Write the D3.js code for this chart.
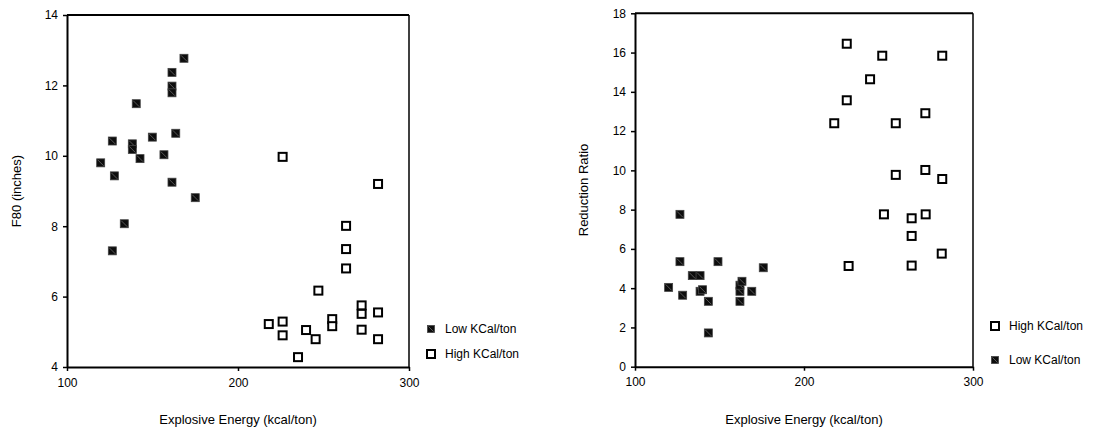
<!DOCTYPE html>
<html>
<head>
<meta charset="utf-8">
<script src="https://cdn.jsdelivr.net/npm/d3@7"></script>
<style>
  html, body { margin: 0; padding: 0; background: #fff; }
  svg { display: block; font-family: "Liberation Sans", Arial, sans-serif; }
</style>
</head>
<body>
<svg id="chart" width="1098" height="436"></svg>
<script>
// Explosive energy (kcal/ton) shared by both panels
const energyTicks = [100, 200, 300];

// Left panel: F80 (inches) vs explosive energy
const f80Ticks = [4, 6, 8, 10, 12, 14];
const f80LowEnergy = [168.4, 161.4, 161.4, 161.4, 140.5, 126.5, 138.2, 138.2, 149.9, 163.6, 156.7, 142.7, 119.7, 127.7, 161.4, 175.0, 133.5, 126.5];
const f80LowValues = [12.77, 12.37, 11.98, 11.79, 11.48, 10.42, 10.34, 10.18, 10.53, 10.64, 10.03, 9.92, 9.80, 9.43, 9.25, 8.81, 8.07, 7.30];
const f80HighEnergy = [226.1, 218.0, 226.1, 226.1, 235.1, 239.8, 245.4, 247.0, 255.1, 255.1, 263.2, 263.2, 263.2, 272.3, 272.3, 272.3, 281.9, 281.9, 281.9];
const f80HighValues = [9.97, 5.22, 5.29, 4.90, 4.28, 5.05, 4.79, 6.17, 5.36, 5.16, 8.01, 7.35, 6.80, 5.75, 5.51, 5.06, 9.20, 5.55, 4.79];

// Right panel: reduction ratio vs explosive energy
const ratioTicks = [0, 2, 4, 6, 8, 10, 12, 14, 16, 18];
const ratioHighEnergy = [225.3, 246.3, 281.8, 239.1, 225.3, 217.9, 254.3, 271.8, 254.3, 271.8, 281.8, 247.3, 263.7, 272.0, 263.7, 281.5, 263.7, 226.4];
const ratioHighValues = [16.45, 15.84, 15.84, 14.64, 13.57, 12.40, 12.40, 12.91, 9.77, 10.02, 9.56, 7.76, 7.56, 7.76, 6.66, 5.76, 5.15, 5.13];
const ratioLowEnergy = [126.6, 126.6, 119.9, 128.2, 133.9, 138.5, 138.5, 140.0, 143.4, 143.4, 149.1, 162.1, 162.1, 162.1, 163.3, 169.1, 175.9];
const ratioLowValues = [7.76, 5.35, 4.04, 3.64, 4.64, 4.64, 3.84, 3.92, 3.33, 1.72, 5.35, 3.84, 3.33, 4.15, 4.35, 3.84, 5.04];

const seriesLow = "Low KCal/ton";
const seriesHigh = "High KCal/ton";

const svg = d3.select("#chart");

// marker painters
function drawOpen(g, cx, cy, size) {
  g.append("rect")
    .attr("x", cx - size / 2).attr("y", cy - size / 2)
    .attr("width", size).attr("height", size)
    .attr("fill", "#fff").attr("stroke", "#000").attr("stroke-width", 2);
}
function drawFilled(g, cx, cy, size) {
  g.append("rect")
    .attr("x", cx - size / 2).attr("y", cy - size / 2)
    .attr("width", size).attr("height", size)
    .attr("fill", "#0d0d0d").attr("stroke", "#444").attr("stroke-width", 0.8);
  g.append("line")
    .attr("x1", cx - size / 2 + 1).attr("y1", cy - size / 2 + 1)
    .attr("x2", cx + size / 2 - 1).attr("y2", cy + size / 2 - 1)
    .attr("stroke", "#6a6a6a").attr("stroke-width", 0.8);
}

function panel(cfg) {
  const x = d3.scaleLinear().domain([energyTicks[0], energyTicks[energyTicks.length - 1]]).range([cfg.left, cfg.right]);
  const y = d3.scaleLinear().domain([cfg.yTicks[0], cfg.yTicks[cfg.yTicks.length - 1]]).range([cfg.bottom, cfg.top]);
  const g = svg.append("g");

  // frame: top and right edges
  g.append("line").attr("x1", cfg.left).attr("x2", cfg.right).attr("y1", cfg.top).attr("y2", cfg.top)
    .attr("stroke", "#000").attr("stroke-width", 2);
  g.append("line").attr("x1", cfg.right).attr("x2", cfg.right).attr("y1", cfg.top).attr("y2", cfg.bottom)
    .attr("stroke", "#000").attr("stroke-width", 1.5);

  // axes
  const xAxis = g.append("g").attr("transform", `translate(0,${cfg.bottom})`)
    .call(d3.axisBottom(x).tickValues(energyTicks).tickSize(4).tickSizeOuter(0).tickPadding(7).tickFormat(d3.format("d")));
  const yAxis = g.append("g").attr("transform", `translate(${cfg.left},0)`)
    .call(d3.axisLeft(y).tickValues(cfg.yTicks).tickSize(4).tickSizeOuter(0).tickPadding(5).tickFormat(d3.format("d")));
  [xAxis, yAxis].forEach(a => {
    a.select(".domain").attr("stroke", "#000").attr("stroke-width", 2);
    a.selectAll(".tick line").attr("stroke", "#000").attr("stroke-width", 1.5);
    a.selectAll(".tick text").attr("fill", "#000").style("font-size", "12px")
      .style("font-family", "'Liberation Sans', Arial, sans-serif");
  });

  // points
  const marks = g.append("g");
  cfg.series.forEach(s => {
    s.xs.forEach((v, i) => {
      if (s.filled) drawFilled(marks, x(v), y(s.ys[i]), 8);
      else drawOpen(marks, x(v), y(s.ys[i]), 8);
    });
  });

  // axis titles
  g.append("text").attr("x", (cfg.left + cfg.right) / 2).attr("y", cfg.xTitleY)
    .attr("text-anchor", "middle").style("font-size", "13px").text("Explosive Energy (kcal/ton)");
  g.append("text")
    .attr("transform", `translate(${cfg.yTitleX},${(cfg.top + cfg.bottom) / 2}) rotate(-90)`)
    .attr("text-anchor", "middle").style("font-size", "13px").text(cfg.yTitle);

  // legend
  const lg = g.append("g");
  cfg.series.forEach((s, i) => {
    const ly = cfg.legendY + i * cfg.legendGap;
    if (s.filled) drawFilled(lg, cfg.legendX, ly, 7);
    else drawOpen(lg, cfg.legendX, ly, 8);
    lg.append("text").attr("x", cfg.legendX + 14).attr("y", ly + 4)
      .style("font-size", "12px").text(s.name);
  });
}

panel({
  left: 67, right: 409, top: 15, bottom: 367,
  yTicks: f80Ticks, yTitle: "F80 (inches)", yTitleX: 21, xTitleY: 424,
  legendX: 431, legendY: 329, legendGap: 25,
  series: [
    { name: seriesLow, filled: true, xs: f80LowEnergy, ys: f80LowValues },
    { name: seriesHigh, filled: false, xs: f80HighEnergy, ys: f80HighValues }
  ]
});

panel({
  left: 635, right: 973, top: 13.3, bottom: 366.7,
  yTicks: ratioTicks, yTitle: "Reduction Ratio", yTitleX: 588, xTitleY: 424,
  legendX: 995, legendY: 326, legendGap: 34,
  series: [
    { name: seriesHigh, filled: false, xs: ratioHighEnergy, ys: ratioHighValues },
    { name: seriesLow, filled: true, xs: ratioLowEnergy, ys: ratioLowValues }
  ]
});
</script>
</body>
</html>
